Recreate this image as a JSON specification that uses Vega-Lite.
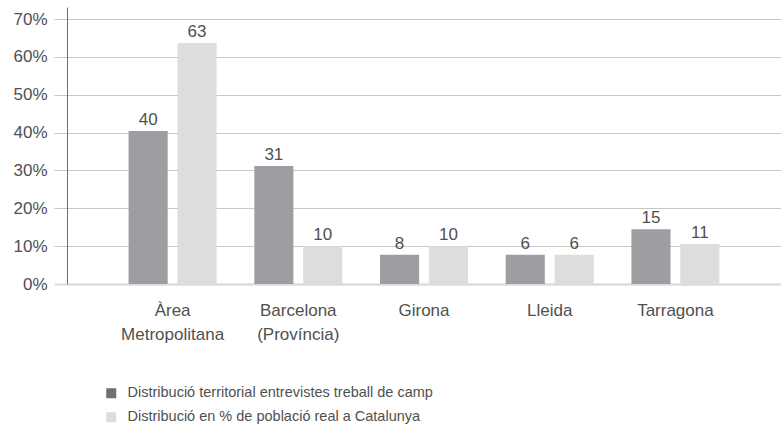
{
  "$schema": "https://vega.github.io/schema/vega-lite/v6.json",
  "width": 714,
  "height": 277,
  "autosize": {"type": "none"},
  "padding": {"left": 67, "top": 7, "right": 0, "bottom": 140},
  "background": "white",
  "data": {
    "values": [
      {"zona": "Àrea Metropolitana", "serie": "Distribució territorial entrevistes treball de camp", "valor": 40.4, "etiqueta": "40"},
      {"zona": "Àrea Metropolitana", "serie": "Distribució en % de població real a Catalunya", "valor": 63.7, "etiqueta": "63"},
      {"zona": "Barcelona (Província)", "serie": "Distribució territorial entrevistes treball de camp", "valor": 31.2, "etiqueta": "31"},
      {"zona": "Barcelona (Província)", "serie": "Distribució en % de població real a Catalunya", "valor": 10.0, "etiqueta": "10"},
      {"zona": "Girona", "serie": "Distribució territorial entrevistes treball de camp", "valor": 7.7, "etiqueta": "8"},
      {"zona": "Girona", "serie": "Distribució en % de població real a Catalunya", "valor": 10.0, "etiqueta": "10"},
      {"zona": "Lleida", "serie": "Distribució territorial entrevistes treball de camp", "valor": 7.7, "etiqueta": "6"},
      {"zona": "Lleida", "serie": "Distribució en % de població real a Catalunya", "valor": 7.7, "etiqueta": "6"},
      {"zona": "Tarragona", "serie": "Distribució territorial entrevistes treball de camp", "valor": 14.5, "etiqueta": "15"},
      {"zona": "Tarragona", "serie": "Distribució en % de població real a Catalunya", "valor": 10.6, "etiqueta": "11"}
    ]
  },
  "config": {
    "view": {"stroke": null},
    "font": "Liberation Sans",
    "axis": {"labelFont": "Liberation Sans", "labelColor": "#505050", "labelFontSize": 17, "title": null, "labelOverlap": false},
    "axisY": {
      "values": [0, 10, 20, 30, 40, 50, 60, 70],
      "labelExpr": "datum.value + '%'",
      "domainColor": "#6e6e6e",
      "domainWidth": 1,
      "grid": true,
      "gridColor": {"condition": {"test": "datum.value === 0", "value": "#dcdcdc"}, "value": "#c8c8c8"},
      "gridWidth": {"condition": {"test": "datum.value === 0", "value": 2}, "value": 1},
      "ticks": true,
      "tickSize": 13,
      "tickColor": {"condition": {"test": "datum.value === 0", "value": "#dcdcdc"}, "value": "#c8c8c8"},
      "tickWidth": {"condition": {"test": "datum.value === 0", "value": 2}, "value": 1},
      "labelPadding": 7,
      "labelOverlap": false
    }
  },
  "encoding": {
    "x": {
      "field": "zona",
      "type": "nominal",
      "sort": null,
      "scale": {"paddingInner": 0.3, "paddingOuter": 0.49},
      "axis": {
        "labelAngle": 0,
        "ticks": false,
        "grid": false,
        "domainColor": "#dcdcdc",
        "domainWidth": 2,
        "labelPadding": 18,
        "labelLineHeight": 24,
        "labelBaseline": "top",
        "labelExpr": "datum.label == 'Àrea Metropolitana' ? ['Àrea', 'Metropolitana'] : datum.label == 'Barcelona (Província)' ? ['Barcelona', '(Província)'] : datum.label"
      }
    },
    "xOffset": {
      "field": "serie",
      "type": "nominal",
      "sort": ["Distribució territorial entrevistes treball de camp", "Distribució en % de població real a Catalunya"],
      "scale": {"paddingInner": 0.2, "paddingOuter": 0}
    }
  },
  "layer": [
    {
      "mark": {"type": "bar"},
      "encoding": {
        "y": {
          "field": "valor",
          "type": "quantitative",
          "scale": {"domain": [0, 73.2], "nice": false}
        },
        "color": {
          "field": "serie",
          "type": "nominal",
          "scale": {"domain": ["Distribució territorial entrevistes treball de camp", "Distribució en % de població real a Catalunya"], "range": ["#9d9ea2", "#dcdddf"]},
          "legend": null
        }
      }
    },
    {
      "mark": {"type": "text", "baseline": "alphabetic", "dy": -6, "fontSize": 17, "color": "#505050", "font": "Liberation Sans"},
      "encoding": {
        "y": {"field": "valor", "type": "quantitative"},
        "text": {"field": "etiqueta", "type": "nominal"}
      }
    },
    {
      "mark": {"type": "bar"},
      "encoding": {
        "y": {"datum": 0, "type": "quantitative"},
        "color": {
          "field": "serie",
          "type": "nominal",
          "scale": {"domain": ["Distribució territorial entrevistes treball de camp", "Distribució en % de població real a Catalunya"], "range": ["#6f6f71", "#dcdcdc"]},
          "legend": {
            "title": null,
            "orient": "none",
            "legendX": 37,
            "legendY": 379,
            "padding": 0,
            "symbolType": "square",
            "symbolSize": 100,
            "symbolStrokeWidth": 0,
            "labelFontSize": 14.5,
            "labelColor": "#505050",
            "labelFont": "Liberation Sans",
            "labelOffset": 9,
            "rowPadding": 9,
            "labelLimit": 500
          }
        }
      }
    }
  ],
  "resolve": {"scale": {"color": "independent"}}
}
